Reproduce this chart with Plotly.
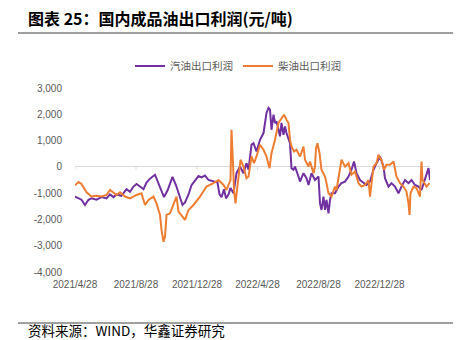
import pandas as pd
import plotly.graph_objects as go

base_date = "2021-04-28"

# 汽油出口利润 (gasoline) : day offset from 2021-04-28, value (元/吨)
gas_day = [0, 7, 13, 20, 27, 33, 43, 53, 63, 70, 77, 83, 93, 103, 110, 117, 123, 130, 137, 143,
           150, 160, 167, 173, 178, 185, 190, 195, 202, 209, 215, 220, 227, 233, 240, 247, 253, 260,
           267, 277, 285, 289, 293, 298, 302, 307, 311, 317, 323, 330, 337, 343, 347, 353, 357, 363,
           370, 377, 380, 383, 387, 390, 393, 397, 400, 403, 407, 410, 413, 417, 420, 423, 430, 433,
           437, 440, 447, 450, 457, 463, 467, 473, 480, 487, 490, 493, 497, 500, 503, 507, 510, 513,
           520, 527, 533, 540, 547, 553, 558, 563, 570, 577, 583, 590, 597, 603, 610, 617, 620, 627,
           633, 640, 647, 653, 660, 667, 673, 680, 687, 693, 700, 707, 710]
gas_val = [-1130, -1200, -1250, -1450, -1250, -1200, -1250, -1150, -1200, -1050, -1150, -1050, -1100,
           -850, -950, -750, -650, -750, -850, -600, -450, -300, -650, -950, -1150, -900, -600, -380,
           -700, -1100, -1450, -1350, -1050, -700, -500, -350, -400, -330, -500, -550, -600, -1050,
           -1150, -850, -1200, -1050, -800, -1005, -240, 10, -240, 140, -110, 840, 900, 585, 1030,
           1285, 1790, 2050, 2240, 2175, 1410, 1985, 1670, 1730, 1410, 1160, 1670, 1220, 1540, 1285,
           900, -50, -110, 10, -370, -560, -240, -430, -690, -240, -500, -370, -1390, -1640, -1130,
           -1640, -1260, -1770, -1260, -1005, -1005, -750, -620, -560, -370, -110, 205, -240, -500,
           -620, -690, -560, -110, 140, 395, 10, -430, -750, -620, -750, -1005, -750, -500, -620,
           -500, -690, -750, -880, -500, -50, -500]

# 柴油出口利润 (diesel)
die_day = [0, 7, 13, 23, 33, 43, 53, 63, 70, 77, 83, 90, 100, 110, 123, 133, 140, 147, 157, 163,
           170, 173, 177, 180, 183, 190, 197, 203, 207, 213, 220, 227, 237, 250, 263, 277, 287, 297,
           303, 311, 313, 316, 318, 321, 327, 331, 337, 343, 347, 353, 358, 363, 370, 377, 383, 389,
           393, 400, 407, 413, 418, 423, 427, 430, 433, 438, 443, 450, 453, 457, 460, 467, 470, 477,
           480, 482, 485, 489, 493, 500, 503, 507, 513, 520, 523, 530, 533, 540, 547, 553, 560, 567,
           573, 580, 587, 590, 597, 603, 607, 610, 613, 618, 623, 630, 637, 643, 650, 657, 663, 667,
           669, 671, 677, 683, 690, 692, 693, 695, 699, 703, 709]
die_val = [-700, -580, -650, -970, -1130, -1100, -1130, -1070, -880, -970, -1070, -970, -1130, -1200,
           -1070, -1005, -1450, -1260, -1130, -1390, -1830, -2400, -2850, -2660, -1830, -1770, -1390,
           -1130, -1700, -1830, -2020, -1640, -1450, -1130, -750, -620, -500, -690, -880, -500, 1410,
           140, -880, -1390, -240, 270, 10, -430, -370, 395, 140, 395, 840, 650, 395, -50, 520, 1030,
           1670, 1860, 1985, 1790, 1670, 1030, 775, 585, 650, 395, 585, 775, 270, 10, 205, -240, 10,
           710, 900, 520, -110, -370, -620, -1005, -1130, -750, -880, -110, 270, 10, 140, -300, -180,
           -620, -750, -690, -500, -1130, 10, 140, 460, 330, 270, -110, 80, 80, 205, -370, -620, -750,
           -940, -1390, -1830, -1005, -750, -810, -1130, -240, 205, -500, -620, -750, -620]

tick_dates = ["2021-04-28", "2021-08-28", "2021-12-28", "2022-04-28", "2022-08-28", "2022-12-28"]
tick_text = ["2021/4/28", "2021/8/28", "2021/12/28", "2022/4/28", "2022/8/28", "2022/12/28"]
y_ticks = [3000, 2000, 1000, 0, -1000, -2000, -3000, -4000]
y_text = ["3,000", "2,000", "1,000", "0", "-1,000", "-2,000", "-3,000", "-4,000"]

b = pd.Timestamp(base_date)
gas_x = [b + pd.Timedelta(days=d) for d in gas_day]
die_x = [b + pd.Timedelta(days=d) for d in die_day]

PURPLE = "#7030A0"
ORANGE = "#ED7D31"
CJK = "Noto Sans CJK SC"

fig = go.Figure()
fig.add_trace(go.Scatter(x=gas_x, y=gas_val, mode="lines", name="汽油出口利润",
                         line=dict(color=PURPLE, width=2)))
fig.add_trace(go.Scatter(x=die_x, y=die_val, mode="lines", name="柴油出口利润",
                         line=dict(color=ORANGE, width=2)))

L, R, T, B = 75, 39, 88, 68
W, H = 469, 340
pw, ph = W - L - R, H - T - B

def px(xp):
    return (xp - L) / pw

def py(yp):
    return (H - B - yp) / ph

fig.update_layout(
    width=W, height=H,
    margin=dict(l=L, r=R, t=T, b=B, autoexpand=False),
    paper_bgcolor="white", plot_bgcolor="white",
    showlegend=True,
    legend=dict(orientation="h", xref="paper", yref="paper",
                x=px(238), xanchor="center", y=py(66), yanchor="middle",
                font=dict(family=CJK, size=10.5, color="#595959"),
                itemwidth=30, bgcolor="rgba(0,0,0,0)"),
    xaxis=dict(type="date", range=[b, b + pd.Timedelta(days=710)],
               tickvals=tick_dates, ticktext=tick_text, showgrid=False,
               zeroline=False, showline=False, ticks="", ticklabelstandoff=5,
               tickfont=dict(family="Liberation Sans", size=10, color="#595959")),
    yaxis=dict(range=[-4000, 3000], tickvals=y_ticks, ticktext=y_text, showgrid=False,
               zeroline=True, zerolinecolor="#d9d9d9", zerolinewidth=1, showline=False,
               ticks="", ticklabelstandoff=12,
               tickfont=dict(family="Liberation Sans", size=10, color="#595959")),
)

# small tick marks on the zero axis line
for d in tick_dates:
    fig.add_shape(type="line", xref="x", yref="y", x0=d, x1=d, y0=0, y1=-110,
                  line=dict(color="#d9d9d9", width=1))

# title and underline
fig.add_annotation(text="<b>图表 25：国内成品油出口利润(元/吨)</b>", xref="paper", yref="paper",
                   x=px(26), y=py(18), xanchor="left", yanchor="middle", showarrow=False,
                   font=dict(family=CJK, size=16, color="#000000"))
fig.add_shape(type="line", xref="paper", yref="paper", x0=px(18), x1=px(453), y0=py(33), y1=py(33),
              line=dict(color="#404040", width=1.2))
# footer
fig.add_shape(type="line", xref="paper", yref="paper", x0=px(18), x1=px(453), y0=py(323), y1=py(323),
              line=dict(color="#404040", width=1))
fig.add_annotation(text="资料来源：WIND，华鑫证券研究", xref="paper", yref="paper",
                   x=px(26), y=py(330), xanchor="left", yanchor="middle", showarrow=False,
                   font=dict(family=CJK, size=13.5, color="#000000"))

fig.write_html("out.html")
